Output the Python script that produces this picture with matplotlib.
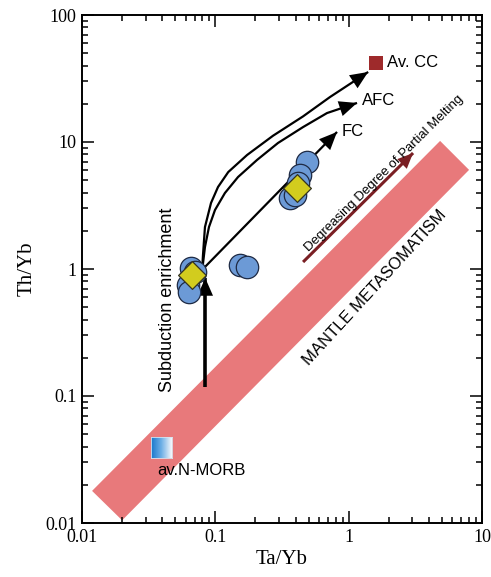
import numpy as np
import matplotlib
matplotlib.use("Agg")
import matplotlib.pyplot as plt
from matplotlib.ticker import FixedLocator, FixedFormatter, LogLocator, NullFormatter
from matplotlib.colors import LinearSegmentedColormap

# ---------------- data ----------------
circ_x = [0.0657, 0.0703, 0.0624, 0.0639, 0.153, 0.173, 0.487, 0.431, 0.417, 0.363, 0.396]
circ_y = [1.02, 0.946, 0.748, 0.659, 1.07, 1.04, 6.96, 5.5, 4.76, 3.62, 3.83]

diam_x = [0.0668, 0.41]
diam_y = [0.897, 4.34]

avcc_x = [1.60]
avcc_y = [41.9]

nmorb_x = 0.0398
nmorb_y = 0.039

band_x = [0.0119, 0.020, 8.0, 4.85]
band_y = [0.0179, 0.0105, 6.03, 10.2]

curve_cc_x = [0.0794, 0.0808, 0.0836, 0.0928, 0.1047, 0.125, 0.173, 0.2707, 0.4545, 0.7244, 1.40]
curve_cc_y = [0.946, 1.29, 2.14, 3.31, 4.42, 5.8, 7.9, 11.2, 15.9, 22.6, 35.6]

curve_afc_x = [0.0794, 0.0836, 0.0896, 0.0994, 0.118, 0.148, 0.2054, 0.295, 0.4545, 0.688, 1.155]
curve_afc_y = [0.946, 1.49, 2.14, 2.914, 3.966, 5.30, 7.22, 9.82, 13.1, 16.9, 20.3]

curve_fc_x = [0.0767, 0.818]
curve_fc_y = [0.946, 12.0]

subd_x = [0.084, 0.084]
subd_y = [0.118, 0.85]

melt_x = [0.455, 3.04]
melt_y = [1.135, 8.19]

xticks = [0.01, 0.1, 1, 10]
xticklabels = ["0.01", "0.1", "1", "10"]
yticks = [0.01, 0.1, 1, 10, 100]
yticklabels = ["0.01", "0.1", "1", "10", "100"]

# ---------------- figure ----------------
serif = ["Liberation Serif", "DejaVu Serif"]
sans = ["Liberation Sans", "DejaVu Sans"]

fig = plt.figure(figsize=(4.91, 5.77), dpi=100)
ax = fig.add_axes([82/491, 1-523/577, 400/491, 508/577])
ax.set_xscale("log")
ax.set_yscale("log")
ax.set_xlim(0.01, 10)
ax.set_ylim(0.01, 100)

# mantle band
ax.fill(band_x, band_y, color="#E8797B", lw=0, zorder=1)

# curves
lw_c = 1.6
for cx, cy in [(curve_cc_x, curve_cc_y), (curve_afc_x, curve_afc_y), (curve_fc_x, curve_fc_y)]:
    ax.plot(cx, cy, color="k", lw=lw_c, zorder=3, solid_capstyle="butt", solid_joinstyle="round")

def head(xs, ys, color="k", ms=16, z=4):
    ax.annotate("", xy=(xs[-1], ys[-1]), xytext=(xs[-2], ys[-2]),
                arrowprops=dict(arrowstyle="-|>,head_length=0.8,head_width=0.35",
                                mutation_scale=ms, color=color, lw=0,
                                shrinkA=0, shrinkB=0),
                zorder=z)

head(curve_cc_x, curve_cc_y)
head(curve_afc_x, curve_afc_y)
head(curve_fc_x, curve_fc_y)

# subduction enrichment arrow
ax.plot(subd_x, subd_y, color="k", lw=2.6, zorder=2, solid_capstyle="butt")
head(subd_x, subd_y, ms=16, z=2)

# decreasing partial melting arrow
ax.plot(melt_x, melt_y, color="#7A1F24", lw=2.2, zorder=3, solid_capstyle="butt")
head(melt_x, melt_y, color="#7A1F24", ms=14)

# samples
ax.scatter(circ_x, circ_y, s=260, c="#6C9AD6", edgecolors="#1E2A44", linewidths=0.9, zorder=5)
ax.scatter(diam_x, diam_y, s=200, marker="D", c="#D2CC1E", edgecolors="#333322", linewidths=0.9, zorder=6)

# Av. CC
ax.scatter(avcc_x, avcc_y, s=90, marker="s", c="#9E2A2B", linewidths=0, zorder=6)

# N-MORB gradient square
fig.canvas.draw()
px, py = ax.transData.transform((nmorb_x, nmorb_y))
half = 10.5
inv = fig.transFigure.inverted()
(fx0, fy0) = inv.transform((px - half, py - half))
(fx1, fy1) = inv.transform((px + half, py + half))
iax = fig.add_axes([fx0, fy0, fx1 - fx0, fy1 - fy0])
grad = np.linspace(0, 1, 64).reshape(1, -1)
cmap = LinearSegmentedColormap.from_list("bw", ["#1877CC", "#6FB0E6", "#F4F8FC"])
iax.imshow(grad, aspect="auto", cmap=cmap, extent=[0, 1, 0, 1])
iax.set_xticks([]); iax.set_yticks([])
for s in iax.spines.values():
    s.set_edgecolor("#D8E4F0"); s.set_linewidth(0.6)

# texts
ax.text(1.26, 21.4, "AFC", fontsize=12, family=sans, ha="left", va="center", zorder=7)
ax.text(0.89, 12.0, "FC", fontsize=12, family=sans, ha="left", va="center", zorder=7)
ax.text(1.95, 42.5, "Av. CC", fontsize=12, family=sans, ha="left", va="center", zorder=7)
ax.text(0.0365, 0.0261, "av.N-MORB", fontsize=12, family=sans, ha="left", va="center", zorder=7)
ax.text(0.0441, 0.57, "Subduction enrichment", fontsize=13, family=sans, rotation=90,
        ha="center", va="center", zorder=7)
ax.text(1.576, 0.708, "MANTLE METASOMATISM", fontsize=12, family=sans, rotation=47.5,
        ha="center", va="center", zorder=7)
ax.text(1.84, 5.70, "Degreasing Degree of Partial Melting", fontsize=9.5, family=sans,
        rotation=44.6, ha="center", va="center", zorder=7)

# axes styling
for s in ax.spines.values():
    s.set_linewidth(1.4)
ax.xaxis.set_major_locator(FixedLocator(xticks))
ax.xaxis.set_major_formatter(FixedFormatter(xticklabels))
ax.yaxis.set_major_locator(FixedLocator(yticks))
ax.yaxis.set_major_formatter(FixedFormatter(yticklabels))
ax.xaxis.set_minor_locator(LogLocator(base=10, subs=np.arange(2, 10)))
ax.yaxis.set_minor_locator(LogLocator(base=10, subs=np.arange(2, 10)))
ax.xaxis.set_minor_formatter(NullFormatter())
ax.yaxis.set_minor_formatter(NullFormatter())
ax.tick_params(which="both", direction="in", top=True, right=True, width=1.1)
ax.tick_params(which="major", length=8.5, labelsize=13)
ax.tick_params(axis="x", which="major", pad=4)
ax.tick_params(axis="y", which="major", pad=4)
ax.tick_params(which="minor", length=4.3)
for lab in ax.get_xticklabels() + ax.get_yticklabels():
    lab.set_family(serif)

ax.set_xlabel("Ta/Yb", fontsize=15, family=serif, labelpad=3)
ax.set_ylabel("Th/Yb", fontsize=15, family=serif, labelpad=6)

fig.savefig("out.png", dpi=100)
